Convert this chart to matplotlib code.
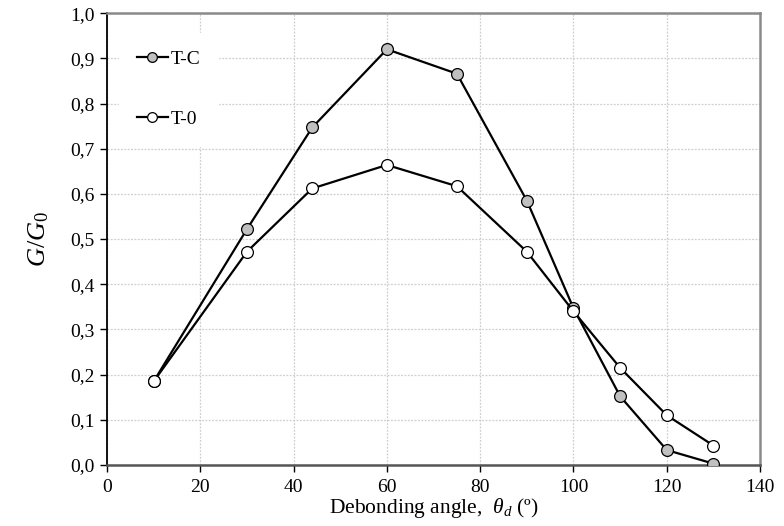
import matplotlib
matplotlib.use("Agg")
import matplotlib.pyplot as plt
from matplotlib.ticker import FuncFormatter, MultipleLocator

plt.rcParams['font.family'] = ['Liberation Serif', 'DejaVu Serif']
plt.rcParams['mathtext.fontset'] = 'custom'
plt.rcParams['mathtext.rm'] = 'Liberation Serif'
plt.rcParams['mathtext.it'] = 'Liberation Serif:italic'

angles = [10, 30, 44, 60, 75, 90, 100, 110, 120, 130]
tc = [0.185, 0.522, 0.747, 0.920, 0.866, 0.585, 0.347, 0.152, 0.033, 0.003]
t0 = [0.185, 0.472, 0.612, 0.664, 0.617, 0.472, 0.340, 0.215, 0.110, 0.043]
labels = ["T-C", "T-0"]

fig = plt.figure(figsize=(7.84, 5.26), dpi=100)
ax = fig.add_axes([0.1365, 0.116, 0.833, 0.859])

ax.plot(angles, tc, '-o', color='black', lw=1.6, ms=8.5, mfc='#c0c0c0', mec='black', mew=0.9, label=labels[0], zorder=3)
ax.plot(angles, t0, '-o', color='black', lw=1.6, ms=8.5, mfc='white', mec='black', mew=0.9, label=labels[1], zorder=3)

ax.set_xlim(0, 140)
ax.set_ylim(0, 1.0)
ax.xaxis.set_major_locator(MultipleLocator(20))
ax.yaxis.set_major_locator(MultipleLocator(0.1))
ax.yaxis.set_major_formatter(FuncFormatter(lambda v, p: f"{v:.1f}".replace('.', ',')))
ax.grid(True, color='#cfcfcf', ls=(0, (1.5, 1.2)), lw=0.9)
ax.set_axisbelow(True)

ax.spines['left'].set_color('black')
ax.spines['left'].set_linewidth(1.3)
ax.spines['bottom'].set_color('#555555')
ax.spines['bottom'].set_linewidth(1.8)
ax.spines['top'].set_color('#8a8a8a')
ax.spines['top'].set_linewidth(1.8)
ax.spines['right'].set_color('#8a8a8a')
ax.spines['right'].set_linewidth(1.8)

ax.tick_params(axis='both', direction='out', length=5, width=1.0, labelsize=14, colors='black')
ax.tick_params(axis='x', pad=5)
ax.tick_params(axis='y', pad=4)

ax.set_xlabel(r"Debonding angle,  $\mathit{\theta_d}$ (º)", fontsize=15.5, labelpad=0)
ax.set_ylabel(r"$\mathit{G/G_0}$", fontsize=19, labelpad=14)

leg = ax.legend(loc='upper left', bbox_to_anchor=(0.01, 0.97), frameon=True, fancybox=False,
                edgecolor='white', facecolor='white', framealpha=1.0, fontsize=14,
                handlelength=1.6, handletextpad=0.15, labelspacing=2.2, borderpad=0.9,
                borderaxespad=0.3)
for h in leg.legend_handles:
    h.set_markersize(7)

fig.savefig("out.png", dpi=100)
